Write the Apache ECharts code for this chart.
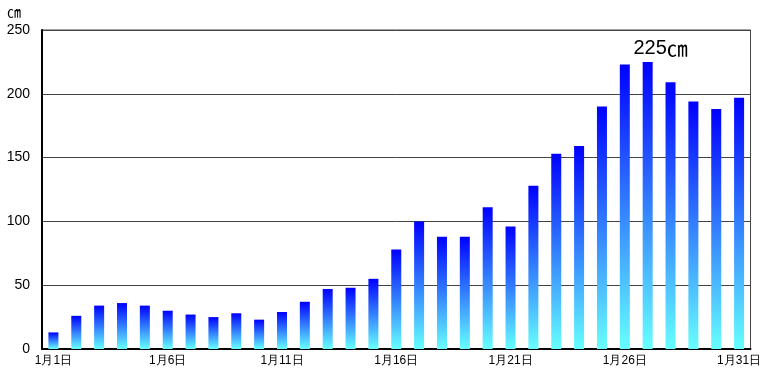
<!DOCTYPE html>
<html><head><meta charset="utf-8">
<script src="https://cdn.jsdelivr.net/npm/echarts@6/dist/echarts.min.js"></script>
<style>html,body{margin:0;padding:0;background:#fff}#c{width:764px;height:374px}</style>
</head><body><div id="c"></div>
<script>
const categories = ['1月1日','1月2日','1月3日','1月4日','1月5日','1月6日','1月7日','1月8日','1月9日','1月10日',
'1月11日','1月12日','1月13日','1月14日','1月15日','1月16日','1月17日','1月18日','1月19日','1月20日',
'1月21日','1月22日','1月23日','1月24日','1月25日','1月26日','1月27日','1月28日','1月29日','1月30日','1月31日'];
const snowDepth = [13,26,34,36,34,30,27,25,28,23,29,37,47,48,55,78,100,88,88,111,96,128,153,159,190,223,225,209,194,188,197];
const peakIndex = 26;
const unitLabel = '㎝';

const chart = echarts.init(document.getElementById('c'));
const grad = new echarts.graphic.LinearGradient(0,0,0,1,[{offset:0,color:'#0000ff'},{offset:1,color:'#66ffff'}]);
chart.setOption({
  animation:false,
  textStyle:{fontFamily:'Liberation Sans, Arial, sans-serif'},
  grid:{left:42,right:7,top:30,bottom:25,show:true,borderColor:'#444',borderWidth:1},
  graphic:[{type:'text',left:7,top:5,style:{text:unitLabel,fontSize:14,fontFamily:'Noto Sans CJK JP',fill:'#000'}}],
  xAxis:{type:'category',data:categories,boundaryGap:true,
    axisLine:{lineStyle:{color:'#000',width:2}},
    axisTick:{inside:true,interval:0,length:4,lineStyle:{color:'#000'}},
    axisLabel:{interval:4,color:'#000',fontSize:12,margin:6}},
  yAxis:{type:'value',min:0,max:250,interval:50,
    axisLine:{show:true,lineStyle:{color:'#000',width:2}},
    axisTick:{show:false},
    axisLabel:{color:'#000',fontSize:14,margin:12},
    splitLine:{lineStyle:{color:'#444',width:1}}},
  series:[{type:'bar',barWidth:10,
    data:snowDepth.map((v,i)=>i===peakIndex?{value:v,label:{show:true,position:'top',offset:[13,2],
      formatter:'{n|{c}}{u|'+unitLabel+'}',
      rich:{n:{fontSize:20,color:'#000',fontFamily:'Liberation Sans'},u:{fontSize:21,color:'#000',fontFamily:'Noto Sans CJK JP'}}}}:v),
    itemStyle:{color:grad}}]
});
</script></body></html>
